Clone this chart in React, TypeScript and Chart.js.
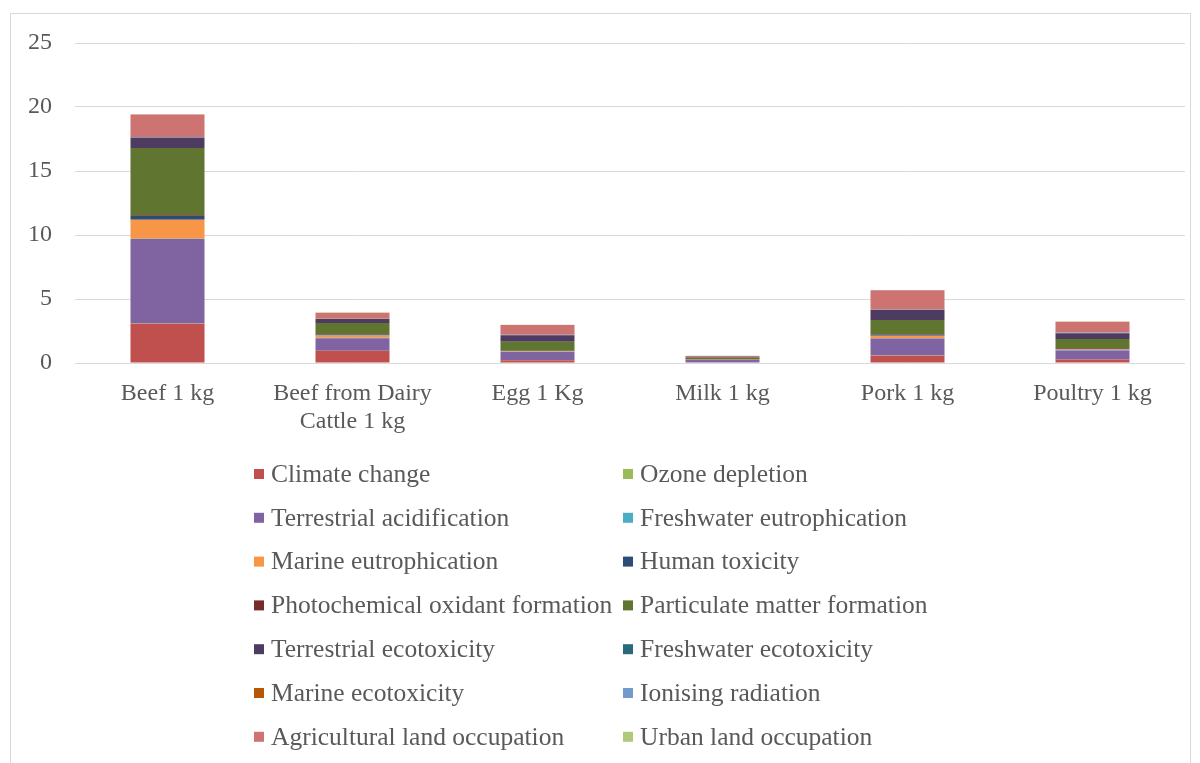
import React, { useEffect, useRef } from "react";
import { Chart, registerables } from "chart.js";

Chart.register(...registerables);

const categories: (string | string[])[] = [
  "Beef 1 kg",
  ["Beef from Dairy", "Cattle 1 kg"],
  "Egg 1 Kg",
  "Milk 1 kg",
  "Pork 1 kg",
  "Poultry 1 kg",
];

const seriesNames = [
  "Climate change",
  "Ozone depletion",
  "Terrestrial acidification",
  "Freshwater eutrophication",
  "Marine eutrophication",
  "Human toxicity",
  "Photochemical oxidant formation",
  "Particulate matter formation",
  "Terrestrial ecotoxicity",
  "Freshwater ecotoxicity",
  "Marine ecotoxicity",
  "Ionising radiation",
  "Agricultural land occupation",
  "Urban land occupation",
];

const seriesColors = [
  "#C0504D",
  "#9BBB59",
  "#8064A2",
  "#4BACC6",
  "#F79646",
  "#2C4D75",
  "#772C2A",
  "#5F7530",
  "#4D3B62",
  "#276A7C",
  "#B65708",
  "#729ACA",
  "#CD7371",
  "#AFC97A",
];

// values per series: [Beef, Beef dairy, Egg, Milk, Pork, Poultry]
const climateChange = [3.07, 0.95, 0.22, 0.04, 0.57, 0.27];
const ozoneDepletion = [0.01, 0.01, 0.01, 0.005, 0.01, 0.01];
const terrestrialAcidification = [6.6, 0.98, 0.62, 0.18, 1.33, 0.7];
const freshwaterEutrophication = [0.03, 0.04, 0.02, 0.01, 0.03, 0.03];
const marineEutrophication = [1.48, 0.17, 0.04, 0.02, 0.18, 0.08];
const humanToxicity = [0.3, 0.07, 0.03, 0.02, 0.1, 0.06];
const photochemicalOxidant = [0.06, 0.04, 0.02, 0.01, 0.04, 0.02];
const particulateMatter = [5.25, 0.87, 0.7, 0.12, 1.09, 0.7];
const terrestrialEcotoxicity = [0.8, 0.3, 0.5, 0.05, 0.8, 0.45];
const freshwaterEcotoxicity = [0.01, 0.01, 0.01, 0.005, 0.01, 0.01];
const marineEcotoxicity = [0.01, 0.01, 0.01, 0.005, 0.01, 0.01];
const ionisingRadiation = [0.04, 0.03, 0.03, 0.01, 0.03, 0.04];
const agriculturalLand = [1.75, 0.45, 0.75, 0.08, 1.48, 0.85];
const urbanLand = [0.02, 0.02, 0.02, 0.01, 0.02, 0.02];

const seriesValues = [
  climateChange,
  ozoneDepletion,
  terrestrialAcidification,
  freshwaterEutrophication,
  marineEutrophication,
  humanToxicity,
  photochemicalOxidant,
  particulateMatter,
  terrestrialEcotoxicity,
  freshwaterEcotoxicity,
  marineEcotoxicity,
  ionisingRadiation,
  agriculturalLand,
  urbanLand,
];

const FONT = "'Liberation Serif', 'Times New Roman', serif";
const TEXT_COLOR = "#595959";
const GRID_COLOR = "#D9D9D9";

const frameAndLegend = {
  id: "frameAndLegend",
  beforeDraw(chart: any) {
    const ctx = chart.ctx;
    ctx.save();
    ctx.fillStyle = "#ffffff";
    ctx.fillRect(0, 0, chart.width, chart.height);
    ctx.strokeStyle = GRID_COLOR;
    ctx.lineWidth = 1;
    ctx.strokeRect(10.5, 13.5, 1180, 760);
    ctx.restore();
  },
  afterDraw(chart: any) {
    const ctx = chart.ctx;
    ctx.save();
    ctx.font = `25.5px ${FONT}`;
    ctx.textBaseline = "middle";
    ctx.textAlign = "left";
    const colX = [254, 623];
    const rowY0 = 474;
    const rowStep = 43.8;
    seriesNames.forEach((name, i) => {
      const col = i % 2;
      const row = Math.floor(i / 2);
      const y = rowY0 + row * rowStep;
      const x = colX[col];
      ctx.fillStyle = seriesColors[i];
      ctx.fillRect(x, y - 5, 10, 10);
      ctx.fillStyle = TEXT_COLOR;
      ctx.fillText(name, x + 17, y + 1);
    });
    ctx.restore();
  },
};

export default function App() {
  const ref = useRef<HTMLCanvasElement | null>(null);
  useEffect(() => {
    if (!ref.current) return;
    const chart = new Chart(ref.current, {
      type: "bar",
      data: {
        labels: categories,
        datasets: seriesNames.map((name, i) => ({
          label: name,
          data: seriesValues[i],
          backgroundColor: seriesColors[i],
          borderWidth: 0,
          barPercentage: 0.4,
          categoryPercentage: 1.0,
        })),
      },
      options: {
        responsive: false,
        animation: false,
        layout: { padding: { left: 0, right: 15, top: 43, bottom: 0 } },
        plugins: {
          legend: { display: false },
          tooltip: { enabled: false },
        },
        scales: {
          x: {
            stacked: true,
            grid: { display: false, drawTicks: false },
            border: { display: false },
            ticks: {
              color: TEXT_COLOR,
              font: { family: FONT, size: 24, lineHeight: 1.17 },
              padding: 17,
              maxRotation: 0,
              autoSkip: false,
            },
            afterFit(scale: any) {
              scale.height = 400;
            },
          },
          y: {
            stacked: true,
            min: 0,
            max: 25,
            grid: { color: GRID_COLOR, drawTicks: false, lineWidth: 1 },
            border: { display: false },
            ticks: {
              stepSize: 5,
              color: TEXT_COLOR,
              font: { family: FONT, size: 24 },
              padding: 23,
            },
            afterFit(scale: any) {
              scale.width = 75;
            },
          },
        },
      },
      plugins: [frameAndLegend],
    });
    return () => chart.destroy();
  }, []);
  return (
    <div style={{ position: "fixed", left: 0, top: 0, width: 1200, height: 763, background: "#fff" }}>
      <canvas ref={ref} width={1200} height={763} />
    </div>
  );
}
